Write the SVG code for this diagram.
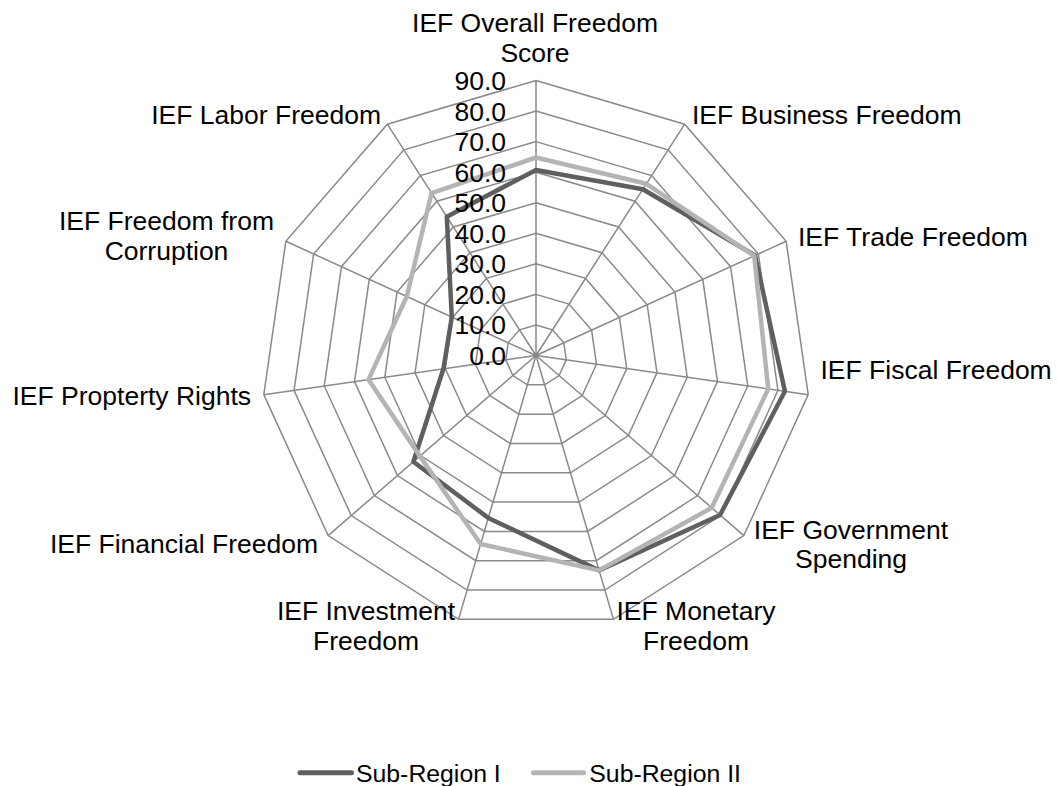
<svg xmlns="http://www.w3.org/2000/svg" width="1057" height="786" viewBox="0 0 1057 786">
<style>
text{font-family:"Liberation Sans",Arial,sans-serif;font-size:26.5px;fill:#000}
.grid{fill:none;stroke:#898989;stroke-width:1.5}
.s1{fill:none;stroke:#5f5f5f;stroke-width:4.5;stroke-linejoin:round}
.s2{fill:none;stroke:#b4b4b4;stroke-width:4.5;stroke-linejoin:round}
.mid{text-anchor:middle}
.end{text-anchor:end}
.leg{font-size:24.8px}
</style>
<rect width="1057" height="786" fill="#fff"/>
<g id="grid" class="grid" transform="translate(536,355.5)">
<polygon points="0,-30.56 16.52,-25.70 27.79,-12.69 30.24,4.35 23.09,20.01 8.61,29.32 -8.61,29.32 -23.09,20.01 -30.24,4.35 -27.79,-12.69 -16.52,-25.70"/>
<polygon points="0,-61.11 33.04,-51.41 55.59,-25.39 60.49,8.70 46.18,40.02 17.22,58.64 -17.22,58.64 -46.18,40.02 -60.49,8.70 -55.59,-25.39 -33.04,-51.41"/>
<polygon points="0,-91.67 49.56,-77.11 83.38,-38.08 90.73,13.05 69.28,60.03 25.83,87.95 -25.83,87.95 -69.28,60.03 -90.73,13.05 -83.38,-38.08 -49.56,-77.11"/>
<polygon points="0,-122.22 66.08,-102.82 111.18,-50.77 120.98,17.40 92.37,80.04 34.44,117.27 -34.44,117.27 -92.37,80.04 -120.98,17.40 -111.18,-50.77 -66.08,-102.82"/>
<polygon points="0,-152.78 82.60,-128.52 138.97,-63.47 151.22,21.75 115.46,100.05 43.05,146.59 -43.05,146.59 -115.46,100.05 -151.22,21.75 -138.97,-63.47 -82.60,-128.52"/>
<polygon points="0,-183.33 99.12,-154.22 166.76,-76.16 181.46,26.09 138.55,120.06 51.65,175.91 -51.65,175.91 -138.55,120.06 -181.46,26.09 -166.76,-76.16 -99.12,-154.22"/>
<polygon points="0,-213.89 115.64,-179.93 194.56,-88.85 211.71,30.44 161.64,140.07 60.26,205.23 -60.26,205.23 -161.64,140.07 -211.71,30.44 -194.56,-88.85 -115.64,-179.93"/>
<polygon points="0,-244.44 132.16,-205.63 222.35,-101.54 241.95,34.79 184.74,160.08 68.87,234.54 -68.87,234.54 -184.74,160.08 -241.95,34.79 -222.35,-101.54 -132.16,-205.63"/>
<polygon points="0,-275 148.68,-231.34 250.15,-114.24 272.20,39.14 207.83,180.09 77.48,263.86 -77.48,263.86 -207.83,180.09 -272.20,39.14 -250.15,-114.24 -148.68,-231.34"/>
<path d="M0,0L0,-275M0,0L148.68,-231.34M0,0L250.15,-114.24M0,0L272.20,39.14M0,0L207.83,180.09M0,0L77.48,263.86M0,0L-77.48,263.86M0,0L-207.83,180.09M0,0L-272.20,39.14M0,0L-250.15,-114.24M0,0L-148.68,-231.34"/>
</g>
<g id="series" transform="translate(536,355.5)">
<polygon id="sub-region-1" class="s1" points="0,-185.47 106.88,-166.30 219.02,-100.02 248.91,35.79 184.04,159.48 63.10,214.90 -47.69,162.42 -122.62,106.25 -92.55,13.31 -84.22,-38.46 -89.21,-138.80"/>
<polygon id="sub-region-2" class="s2" points="0,-198.00 110.35,-171.70 218.18,-99.64 232.27,33.40 175.73,152.28 63.10,214.90 -55.36,188.51 -116.15,100.65 -167.55,24.09 -129.24,-59.02 -104.41,-162.45"/>
</g>
<g id="scale-labels" class="end">
<text x="506" y="365">0.0</text>
<text x="506" y="334.4">10.0</text>
<text x="506" y="303.9">20.0</text>
<text x="506" y="273.3">30.0</text>
<text x="506" y="242.8">40.0</text>
<text x="506" y="212.2">50.0</text>
<text x="506" y="181.7">60.0</text>
<text x="506" y="151.1">70.0</text>
<text x="506" y="120.5">80.0</text>
<text x="506" y="90">90.0</text>
</g>
<g id="axis-labels">
<text class="mid" x="535" y="31.5">IEF Overall Freedom</text>
<text class="mid" x="535" y="61.5">Score</text>
<text x="692" y="123.5">IEF Business Freedom</text>
<text x="798" y="246">IEF Trade Freedom</text>
<text x="820.5" y="379">IEF Fiscal Freedom</text>
<text class="mid" x="851" y="538.5">IEF Government</text>
<text class="mid" x="851" y="568">Spending</text>
<text class="mid" x="696" y="620">IEF Monetary</text>
<text class="mid" x="696" y="650">Freedom</text>
<text class="mid" x="366" y="620">IEF Investment</text>
<text class="mid" x="366" y="650">Freedom</text>
<text class="end" x="318" y="553">IEF Financial Freedom</text>
<text x="12.5" y="405">IEF Propterty Rights</text>
<text class="mid" x="166.5" y="230">IEF Freedom from</text>
<text class="mid" x="166.5" y="260">Corruption</text>
<text class="end" x="381" y="123.5">IEF Labor Freedom</text>
</g>
<g id="legend">
<line x1="300" y1="772.7" x2="351.5" y2="772.7" stroke="#5f5f5f" stroke-width="5" stroke-linecap="round"/>
<text class="leg" x="356" y="781.5">Sub-Region I</text>
<line x1="533.5" y1="772.7" x2="583.5" y2="772.7" stroke="#b4b4b4" stroke-width="5" stroke-linecap="round"/>
<text class="leg" x="589.3" y="781.5">Sub-Region II</text>
</g>
</svg>
